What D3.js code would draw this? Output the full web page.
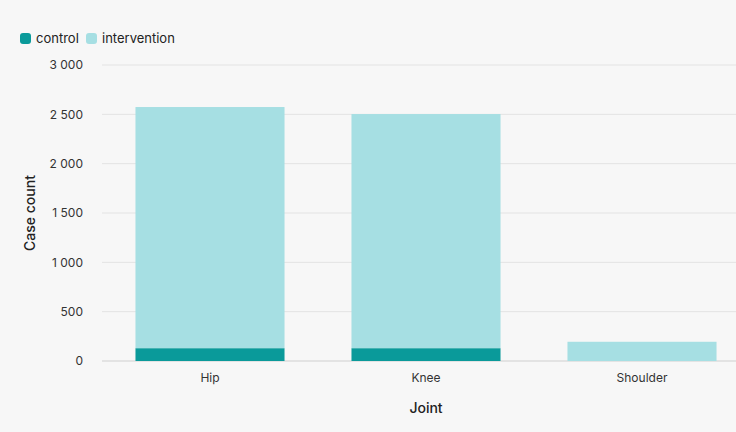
<!DOCTYPE html>
<html><head><meta charset="utf-8">
<script src="https://cdn.jsdelivr.net/npm/d3@7"></script>
<style>
body{margin:0;background:#f7f7f7;font-family:Inter,sans-serif;}
</style></head>
<body><div id="chart"></div>
<script>
const joints = ["Hip", "Knee", "Shoulder"];
const control = [130, 130, 0];
const intervention = [2444, 2373, 195];
const yTicks = [0, 500, 1000, 1500, 2000, 2500, 3000];
const seriesNames = ["control", "intervention"];
const colors = ["#0a9a9a", "#a6dfe3"];

const width = 736, height = 432;
const svg = d3.select("#chart").append("svg")
  .attr("width", width).attr("height", height)
  .style("background", "#f7f7f7");

const x = d3.scaleBand().domain(joints).range([102, 750]).paddingInner(0.31).paddingOuter(0.155);
const y = d3.scaleLinear().domain([0, 3000]).range([361, 65]);
const fmt = d => d3.format(",")(d).replace(/,/g, " ");

// grid
svg.append("g").selectAll("line").data(yTicks).join("line")
  .attr("x1", 102).attr("x2", 736)
  .attr("y1", d => y(d)).attr("y2", d => y(d))
  .attr("stroke", d => d === 0 ? "#cfcfcf" : "#e3e3e3");

const yAxis = svg.append("g").attr("transform", "translate(86,0)")
  .call(d3.axisLeft(y).tickValues(yTicks).tickFormat(fmt).tickSize(0));
yAxis.select(".domain").remove();
yAxis.selectAll("text").attr("font-family", "Inter").attr("font-size", 12).attr("fill", "#333");

const table = joints.map((j, i) => ({joint: j, control: control[i], intervention: intervention[i]}));
const stacked = d3.stack().keys(seriesNames)(table);
svg.append("g").selectAll("g").data(stacked).join("g")
  .attr("fill", (d, i) => colors[i])
  .selectAll("rect").data(d => d).join("rect")
  .attr("x", d => x(d.data.joint)).attr("width", x.bandwidth())
  .attr("y", d => y(d[1])).attr("height", d => y(d[0]) - y(d[1]));

const xAxis = svg.append("g").attr("transform", "translate(0,361)")
  .call(d3.axisBottom(x).tickSize(0).tickPadding(12));
xAxis.select(".domain").remove();
xAxis.selectAll("text").attr("font-family", "Inter").attr("font-size", 12).attr("fill", "#333");

svg.append("text").attr("x", 426).attr("y", 413).attr("text-anchor", "middle")
  .attr("font-family", "Inter").attr("font-size", 14).attr("font-weight", 500).attr("fill", "#222").text("Joint");
svg.append("text").attr("transform", "translate(35,213) rotate(-90)").attr("text-anchor", "middle")
  .attr("font-family", "Inter").attr("font-size", 14).attr("font-weight", 500).attr("fill", "#222").text("Case count");

// legend
const lg = svg.append("g").attr("transform", "translate(20,33)");
const lx = [0, 66];
seriesNames.forEach((s, i) => {
  lg.append("rect").attr("x", lx[i]).attr("y", 0).attr("width", 11).attr("height", 11).attr("rx", 3).attr("fill", colors[i]);
  lg.append("text").attr("x", lx[i] + 16).attr("y", 10).attr("font-family", "Inter").attr("font-size", 13).attr("fill", "#222").text(s);
});
</script></body></html>
